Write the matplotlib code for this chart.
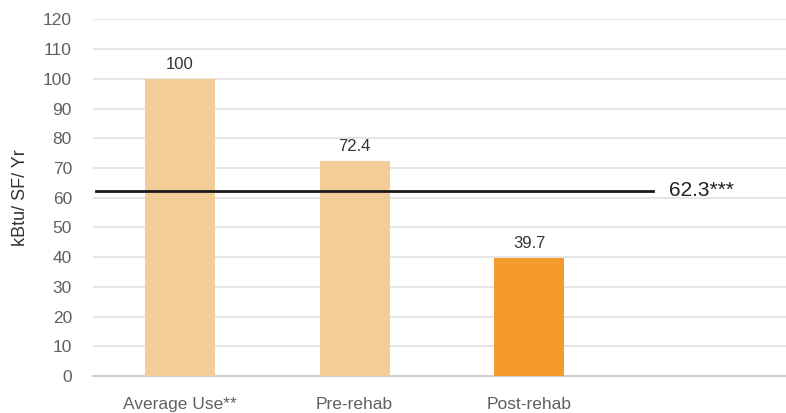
import matplotlib.pyplot as plt

plt.rcParams['font.family'] = ['Liberation Sans', 'DejaVu Sans']

categories = ['Average Use**', 'Pre-rehab', 'Post-rehab']
values = [100, 72.4, 39.7]
value_labels = ['100', '72.4', '39.7']
bar_colors = ['#F3CD97', '#F3CD97', '#F59B2B']
target = 62.3
target_label = '62.3***'

fig = plt.figure(figsize=(7.86, 4.13), dpi=100)
ax = fig.add_axes([0.118, 0.0896, 0.882, 0.8634])

x = list(range(len(categories)))
ax.bar(x, values, width=0.4, color=bar_colors, zorder=3)
for xi, v, lab in zip(x, values, value_labels):
    ax.text(xi, v + 2.4, lab, ha='center', va='bottom', fontsize=12, color='#333333')

# target line
ax.plot([-0.48, 2.71], [target, target], color='#1a1a1a', lw=2, zorder=4)
ax.text(2.8, target, target_label, ha='left', va='center', fontsize=15, color='#222222')

ax.set_xlim(-0.5, 3.47)
ax.set_ylim(0, 120)
ax.set_yticks(range(0, 121, 10))
ax.set_xticks(x)
ax.set_xticklabels(categories)
ax.tick_params(axis='both', length=0, labelsize=12.5, labelcolor='#606060')
ax.tick_params(axis='y', pad=15)
ax.tick_params(axis='x', pad=15)
ax.grid(axis='y', color='#e0e0e0', lw=1.2, zorder=0)
for s in ['top', 'right', 'left']:
    ax.spines[s].set_visible(False)
ax.spines['bottom'].set_color('#d0d0d0')
ax.spines['bottom'].set_linewidth(1.5)
ax.set_ylabel('kBtu/ SF/ Yr', fontsize=13, color='#333333', labelpad=10)

fig.savefig('out.png', dpi=100)
